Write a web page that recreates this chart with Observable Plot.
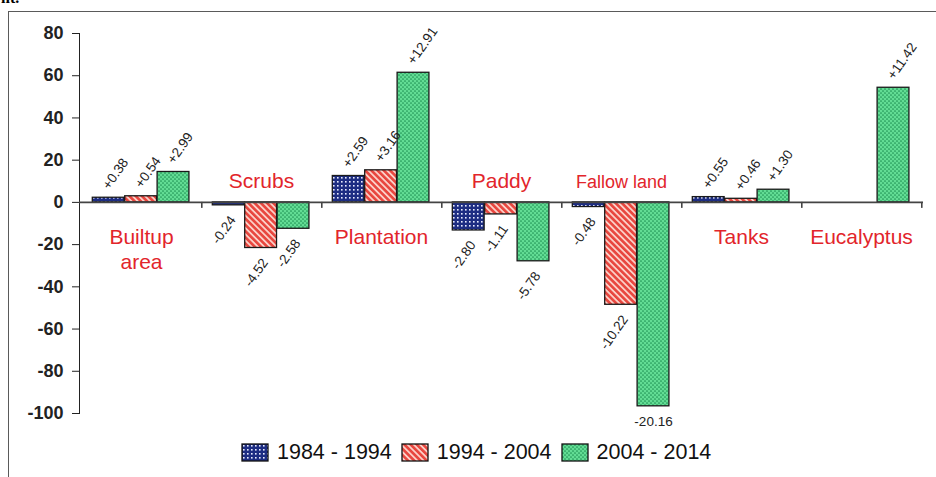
<!DOCTYPE html>
<html><head><meta charset="utf-8">
<script src="https://cdn.jsdelivr.net/npm/d3@7"></script>
<script src="https://cdn.jsdelivr.net/npm/@observablehq/plot@0.6"></script>
<style>
body{margin:0;background:#fff;font-family:"Liberation Sans",Arial,sans-serif;}
#wrap{position:relative;width:936px;height:477px;overflow:hidden;background:#fff;}
#frame{position:absolute;left:8px;top:11px;width:1000px;height:600px;border-left:1.6px solid #5a5a5a;border-top:1.6px solid #5a5a5a;}
#chart{position:absolute;left:0;top:0;}
#legend{position:absolute;left:242px;top:436px;}
.lg-swatches{font-size:21.5px !important;font-family:"Liberation Sans",Arial,sans-serif !important;color:#111 !important;margin:0 !important;}
.lg-swatch{margin-right:10px !important;}
.lg-swatch > svg{margin-right:9px !important;overflow:visible;}
.lg-swatch svg rect{stroke:#111;stroke-width:1.3px;}
#cut{position:absolute;left:1px;top:-11px;font:bold 16px "Liberation Serif",serif;color:#000;}
#defs{position:absolute;width:0;height:0;}
</style></head>
<body>
<svg id="defs" width="0" height="0">
  <defs>
    <pattern id="pBlue" width="4" height="4" patternUnits="userSpaceOnUse">
      <rect width="4" height="4" fill="#1d2d82"/>
      <rect x="1" y="1" width="1.6" height="1.6" fill="#e8ecff"/>
    </pattern>
    <pattern id="pRed" width="4.4" height="4.4" patternUnits="userSpaceOnUse" patternTransform="rotate(-45)">
      <rect width="4.4" height="4.4" fill="#fbd0c8"/>
      <rect width="2.6" height="4.4" fill="#e8463e"/>
    </pattern>
    <pattern id="pGreen" width="4" height="4" patternUnits="userSpaceOnUse">
      <rect width="4" height="4" fill="#62dc94"/>
      <circle cx="1" cy="1" r="0.85" fill="#1f9355"/>
      <circle cx="3" cy="3" r="0.85" fill="#1f9355"/>
    </pattern>
  </defs>
</svg>
<div id="wrap">
  <div id="cut">nt.</div>
  <div id="frame"></div>
  <div id="chart"></div>
  <div id="legend"></div>
</div>
<script>
// ---- data ----
const categories = ["Builtup area", "Scrubs", "Plantation", "Paddy", "Fallow land", "Tanks", "Eucalyptus"];
const categoryText = ["Builtup\narea", "Scrubs", "Plantation", "Paddy", "Fallow land", "Tanks", "Eucalyptus"];
const series = ["1984 - 1994", "1994 - 2004", "2004 - 2014"];
const values1984 = [2.2, -1.4, 12.5, -13.3, -2.2, 2.5, null];
const values1994 = [2.9, -21.6, 15.2, -5.7, -48.5, 1.7, null];
const values2004 = [14.4, -12.5, 61.4, -27.9, -96.6, 6.0, 54.3];
const labels1984 = ["+0.38", "-0.24", "+2.59", "-2.80", "-0.48", "+0.55", null];
const labels1994 = ["+0.54", "-4.52", "+3.16", "-1.11", "-10.22", "+0.46", null];
const labels2004 = ["+2.99", "-2.58", "+12.91", "-5.78", "-20.16", "+1.30", "+11.42"];
const yTicks = [-100, -80, -60, -40, -20, 0, 20, 40, 60, 80];

const fills = ["url(#pBlue)", "url(#pRed)", "url(#pGreen)"];
const valuesBySeries = [values1984, values1994, values2004];
const labelsBySeries = [labels1984, labels1994, labels2004];

const rows = series.flatMap((s, i) => categories.map((c, j) => ({
  cat: c, series: s, i, value: valuesBySeries[i][j], label: labelsBySeries[i][j]
}))).filter(d => d.value != null);
const minValue = d3.min(rows, d => d.value);

const catRows = categories.map((c, j) => ({
  cat: c, text: categoryText[j],
  above: d3.sum(valuesBySeries, v => v[j] ?? 0) < 0
}));

// ---- layout ----
const W = 936, H = 440, ML = 79, MR = 13, MT = 33, MB = 27;
const bw = (W - ML - MR) / categories.length;
const barW = 32.4, off = 11.3;

const marks = [];
series.forEach((s, i) => {
  const sub = rows.filter(d => d.i === i);
  marks.push(Plot.barY(sub, {
    x: "cat", y: "value", fill: "series", stroke: "#1a1a1a", strokeWidth: 1.3,
    insetLeft: off + i * barW, insetRight: bw - off - (i + 1) * barW
  }));
});
marks.push(Plot.ruleY([0], {stroke: "#444", strokeWidth: 1.6}));
marks.push(Plot.ruleX(categories, {x: d => d, y1: 0, y2: 0, insetBottom: -6, dx: bw / 2, stroke: "#444", strokeWidth: 1.6}));

series.forEach((s, i) => {
  const sub = rows.filter(d => d.i === i && d.label != null);
  const cx = -bw / 2 + off + (i + 0.5) * barW;
  marks.push(Plot.text(sub.filter(d => d.value > 0), {
    x: "cat", y: "value", text: "label", rotate: -55, textAnchor: "start",
    dx: cx - 3, dy: -10, fontSize: 13.5, fill: "#222", fontWeight: "normal"
  }));
  marks.push(Plot.text(sub.filter(d => d.value < 0 && d.value !== minValue), {
    x: "cat", y: "value", text: "label", rotate: -55, textAnchor: "end",
    dx: cx + 4, dy: 12, fontSize: 13.5, fill: "#222", fontWeight: "normal"
  }));
  marks.push(Plot.text(sub.filter(d => d.value === minValue), {
    x: "cat", y: "value", text: "label", textAnchor: "middle", lineAnchor: "top",
    dx: cx, dy: 10, fontSize: 13.5, fill: "#222", fontWeight: "normal"
  }));
});

marks.push(Plot.text(catRows.filter(d => !d.above), {
  x: "cat", y: 0, text: "text", lineAnchor: "top", dy: 24, lineHeight: 1.19,
  fontSize: 21, fill: "#e2252b", fontWeight: "normal"
}));
marks.push(Plot.text(catRows.filter(d => d.above), {
  x: "cat", y: 0, text: "text", lineAnchor: "bottom", dy: -14,
  fontSize: d => d.cat === "Fallow land" ? 18 : 21, fill: "#e2252b", fontWeight: "normal"
}));

const chart = Plot.plot({
  width: W, height: H,
  marginLeft: ML, marginRight: MR, marginTop: MT, marginBottom: MB,
  style: {fontFamily: "'Liberation Sans', Arial, sans-serif", fontSize: "18px", fontWeight: "bold", color: "#222", background: "transparent"},
  x: {type: "band", domain: categories, padding: 0, axis: null},
  y: {domain: [-100, 80], ticks: yTicks, tickSize: 7, tickPadding: 9, line: true, label: null, tickFormat: d => String(d)},
  color: {type: "ordinal", domain: series, range: fills},
  marks
});
document.getElementById("chart").appendChild(chart);

const legend = Plot.legend({
  color: {type: "ordinal", domain: series, range: fills},
  swatchWidth: 26, swatchHeight: 17, className: "lg"
});
document.getElementById("legend").appendChild(legend);
</script>
</body></html>
